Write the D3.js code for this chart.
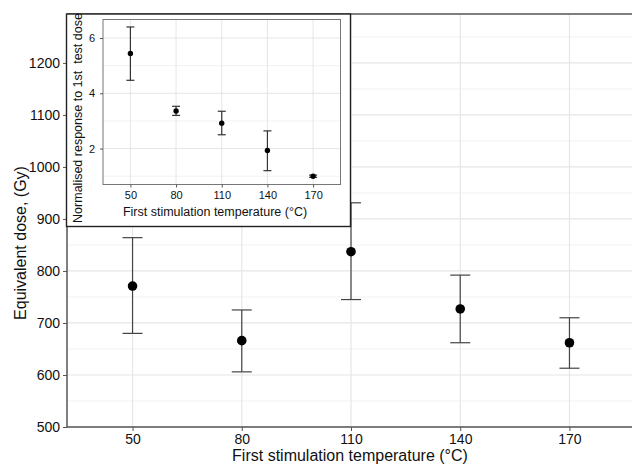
<!DOCTYPE html>
<html><head><meta charset="utf-8">
<script src="https://cdn.jsdelivr.net/npm/d3@7"></script>
<style>body{margin:0;background:#fff}svg{display:block;font-family:"Liberation Sans",Arial,sans-serif}</style>
</head><body><svg id="c" width="632" height="466"></svg>
<script>
const temps = [50, 80, 110, 140, 170];
const doseMean = [771, 666, 837, 727, 662];
const doseLow = [680, 606, 745, 662, 613];
const doseHigh = [864, 725, 931, 792, 710];
const doseTicks = [500, 600, 700, 800, 900, 1000, 1100, 1200];
const doseMinor = [550, 650, 750, 850, 950, 1050, 1150, 1250];
const normMean = [5.44, 3.36, 2.92, 1.93, 1.00];
const normLow = [4.47, 3.20, 2.50, 1.20, 0.96];
const normHigh = [6.40, 3.53, 3.35, 2.64, 1.04];
const normTicks = [2, 4, 6];
const normMinor = [1, 3, 5];
const tempTicks = [50, 80, 110, 140, 170];

const svg = d3.select("#c");
const ink = "#111";
const fmt = d3.format("d");

// ---------- main panel ----------
const M = {l: 67, t: 14, r: 635, b: 427};
const x = d3.scaleLinear().domain([32, 188]).range([M.l, M.r]);
const y = d3.scaleLinear().domain([500, 1294]).range([M.b, M.t]);

const g = svg.append("g");
g.selectAll(".mn").data(doseMinor).join("line")
  .attr("x1", M.l).attr("x2", M.r).attr("y1", d => y(d)).attr("y2", d => y(d))
  .attr("stroke", "#f2f2f2").attr("stroke-width", 1);
g.selectAll(".mj").data(doseTicks).join("line")
  .attr("x1", M.l).attr("x2", M.r).attr("y1", d => y(d)).attr("y2", d => y(d))
  .attr("stroke", "#e6e6e6").attr("stroke-width", 1.2);
g.selectAll(".vx").data(tempTicks).join("line")
  .attr("y1", M.t).attr("y2", M.b).attr("x1", d => x(d)).attr("x2", d => x(d))
  .attr("stroke", "#e6e6e6").attr("stroke-width", 1.2);
g.append("line").attr("x1", M.l).attr("x2", M.r).attr("y1", M.t).attr("y2", M.t)
  .attr("stroke", "#555").attr("stroke-width", 1.3);

const data = temps.map((t, i) => ({t, m: doseMean[i], lo: doseLow[i], hi: doseHigh[i]}));
const eb = g.append("g").attr("stroke", "#444").attr("stroke-width", 1.2);
eb.selectAll(".v").data(data).join("line")
  .attr("x1", d => x(d.t)).attr("x2", d => x(d.t)).attr("y1", d => y(d.lo)).attr("y2", d => y(d.hi));
eb.selectAll(".h").data(data).join("line")
  .attr("x1", d => x(d.t) - 10).attr("x2", d => x(d.t) + 10).attr("y1", d => y(d.hi)).attr("y2", d => y(d.hi));
eb.selectAll(".l").data(data).join("line")
  .attr("x1", d => x(d.t) - 10).attr("x2", d => x(d.t) + 10).attr("y1", d => y(d.lo)).attr("y2", d => y(d.lo));
g.selectAll(".pt").data(data).join("circle")
  .attr("cx", d => x(d.t)).attr("cy", d => y(d.m)).attr("r", 4.8).attr("fill", "#000");

const xa = g.append("g").attr("transform", `translate(0,${M.b})`)
  .call(d3.axisBottom(x).tickValues(tempTicks).tickFormat(fmt).tickSize(4).tickPadding(3));
xa.select(".domain").attr("stroke", "#555").attr("stroke-width", 1.5).attr("d", `M${M.l},0H${M.r}`);
xa.selectAll(".tick line").attr("stroke", "#555");
xa.selectAll("text").attr("font-size", 14).attr("fill", ink).attr("font-family", "Liberation Sans, Arial");
const ya = g.append("g").attr("transform", `translate(${M.l},0)`)
  .call(d3.axisLeft(y).tickValues(doseTicks).tickFormat(fmt).tickSize(4).tickPadding(3));
ya.select(".domain").attr("stroke", "#555").attr("stroke-width", 1.5).attr("d", `M0,${M.b}V${M.t}`);
ya.selectAll(".tick line").attr("stroke", "#555");
ya.selectAll("text").attr("font-size", 14).attr("fill", ink).attr("font-family", "Liberation Sans, Arial");

svg.append("text").attr("x", 350).attr("y", 461).attr("text-anchor", "middle")
  .attr("font-size", 16).attr("fill", ink).text("First stimulation temperature (°C)");
svg.append("text").attr("transform", "translate(26,243) rotate(-90)").attr("text-anchor", "middle")
  .attr("font-size", 16).attr("fill", ink).text("Equivalent dose, (Gy)");

// ---------- inset ----------
svg.append("rect").attr("x", 66.5).attr("y", 14).attr("width", 284).attr("height", 212.5)
  .attr("fill", "#fff").attr("stroke", "#222").attr("stroke-width", 1.4);
const I = {l: 103, t: 19.5, r: 340.5, b: 184.5};
const xi = d3.scaleLinear().domain([32, 188]).range([I.l, I.r]);
const yi = d3.scaleLinear().domain([0.7, 6.67]).range([I.b, I.t]);
const gi = svg.append("g");
gi.selectAll(".mn").data(normMinor).join("line")
  .attr("x1", I.l).attr("x2", I.r).attr("y1", d => yi(d)).attr("y2", d => yi(d))
  .attr("stroke", "#f2f2f2");
gi.selectAll(".mj").data(normTicks).join("line")
  .attr("x1", I.l).attr("x2", I.r).attr("y1", d => yi(d)).attr("y2", d => yi(d))
  .attr("stroke", "#e6e6e6");
gi.selectAll(".vx").data(tempTicks).join("line")
  .attr("y1", I.t).attr("y2", I.b).attr("x1", d => xi(d)).attr("x2", d => xi(d))
  .attr("stroke", "#e6e6e6");
gi.append("rect").attr("x", I.l).attr("y", I.t).attr("width", I.r - I.l).attr("height", I.b - I.t)
  .attr("fill", "none").attr("stroke", "#777").attr("stroke-width", 1);

const nd = temps.map((t, i) => ({t, m: normMean[i], lo: normLow[i], hi: normHigh[i]}));
const ebi = gi.append("g").attr("stroke", "#333").attr("stroke-width", 1.2);
ebi.selectAll(".v").data(nd).join("line")
  .attr("x1", d => xi(d.t)).attr("x2", d => xi(d.t)).attr("y1", d => yi(d.lo)).attr("y2", d => yi(d.hi));
ebi.selectAll(".h").data(nd).join("line")
  .attr("x1", d => xi(d.t) - 4).attr("x2", d => xi(d.t) + 4).attr("y1", d => yi(d.hi)).attr("y2", d => yi(d.hi));
ebi.selectAll(".l").data(nd).join("line")
  .attr("x1", d => xi(d.t) - 4).attr("x2", d => xi(d.t) + 4).attr("y1", d => yi(d.lo)).attr("y2", d => yi(d.lo));
gi.selectAll(".pt").data(nd).join("circle")
  .attr("cx", d => xi(d.t)).attr("cy", d => yi(d.m)).attr("r", 2.7).attr("fill", "#000");

const xai = gi.append("g").attr("transform", `translate(0,${I.b})`)
  .call(d3.axisBottom(xi).tickValues(tempTicks).tickFormat(fmt).tickSize(3).tickPadding(4));
xai.select(".domain").remove();
xai.selectAll(".tick line").attr("stroke", "#555");
xai.selectAll("text").attr("font-size", 11).attr("fill", ink).attr("font-family", "Liberation Sans, Arial");
const yai = gi.append("g").attr("transform", `translate(${I.l},0)`)
  .call(d3.axisLeft(yi).tickValues(normTicks).tickFormat(fmt).tickSize(3).tickPadding(5));
yai.select(".domain").remove();
yai.selectAll(".tick line").attr("stroke", "#555");
yai.selectAll("text").attr("font-size", 11).attr("fill", ink).attr("font-family", "Liberation Sans, Arial");

svg.append("text").attr("x", 215).attr("y", 216).attr("text-anchor", "middle")
  .attr("font-size", 12.5).attr("fill", ink).text("First stimulation temperature (°C)");
svg.append("text").attr("transform", "translate(82,118) rotate(-90)").attr("text-anchor", "middle")
  .attr("font-size", 12.5).attr("fill", ink).attr("xml:space", "preserve").style("white-space", "pre")
  .text("Normalised response to 1st  test dose");
</script></body></html>
